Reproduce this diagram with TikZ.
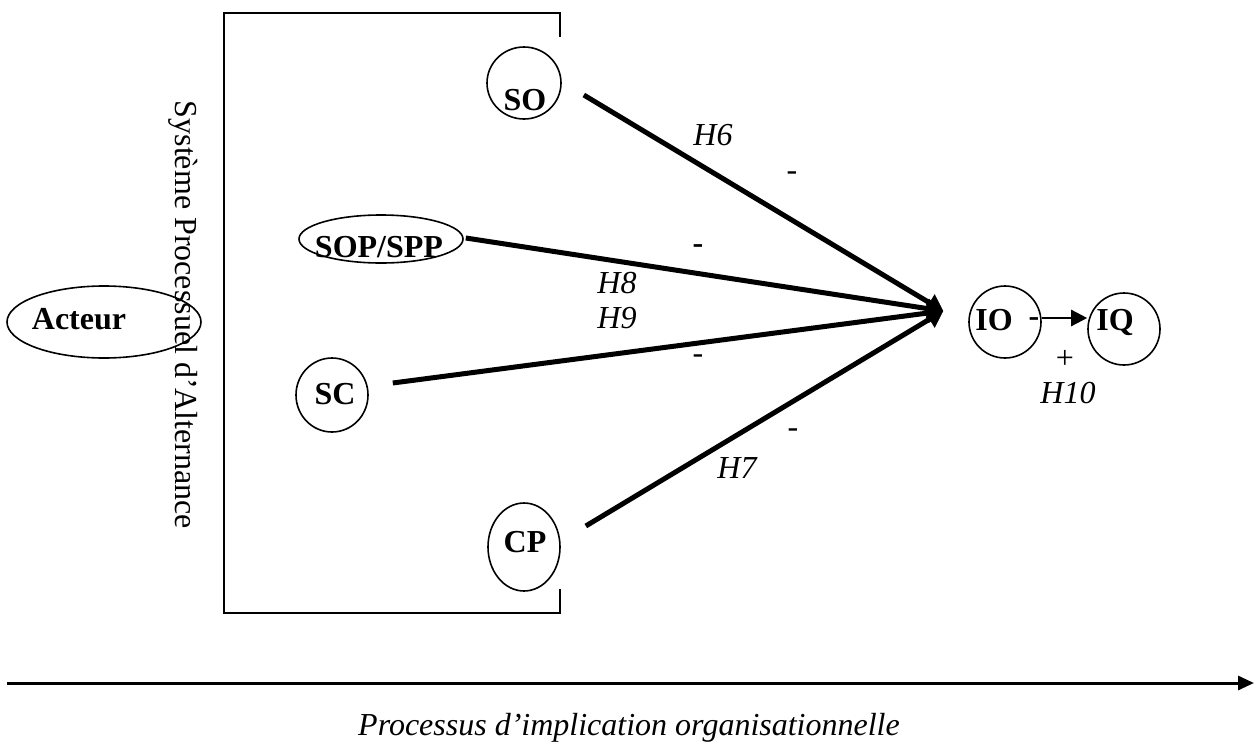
\documentclass[tikz,border=0pt]{standalone}
\usepackage{fontspec}
\setmainfont{Liberation Serif}
\usetikzlibrary{shapes.geometric,arrows.meta,calc}
\begin{document}
\begin{tikzpicture}[x=1pt,y=-1pt,
  oval/.style={draw,ellipse,line width=1.6pt,inner sep=0pt},
  lab/.style={font=\fontsize{32}{38}\selectfont\bfseries,anchor=base,inner sep=0pt},
  hyp/.style={font=\fontsize{32}{38}\selectfont\itshape,anchor=base,inner sep=0pt},
  sgn/.style={font=\fontsize{32}{38}\selectfont,inner sep=0pt},
  bigarr/.style={line width=5pt,-{Triangle[length=16pt,width=20pt,line width=0.5pt]}},
]
\useasboundingbox (0,0) rectangle (1256,742);

% bracket of the system
\draw[line width=2pt] (560,37) -- (560,13) -- (224,13) -- (224,613) -- (560,613) -- (560,589);

% vertical title
\node[font=\fontsize{32}{38}\selectfont,rotate=-90,anchor=base,inner sep=0pt] (sys) at (175,315) {Système Processuel d’Alternance};

% ellipses
\node[oval,minimum width=194pt,minimum height=72pt] (Acteur) at (104,322) {};
\node[oval,minimum width=74pt,minimum height=72pt] (SO) at (524,83) {};
\node[oval,minimum width=164pt,minimum height=48pt] (SOP) at (381,239) {};
\node[oval,minimum width=72pt,minimum height=74pt] (SC) at (332,395) {};
\node[oval,minimum width=72pt,minimum height=88pt] (CP) at (524,547) {};
\node[oval,minimum width=72pt,minimum height=72pt] (IO) at (1005,322) {};
\node[oval,minimum width=72pt,minimum height=72pt] (IQ) at (1124,329) {};

% texts of the ellipses
\node[lab] (tActeur) at (79,329) {Acteur};
\node[lab] (tSO) at (525,110) {SO};
\node[lab] (tSOP) at (379,257) {SOP/SPP};
\node[lab] (tSC) at (335,404) {SC};
\node[lab] (tCP) at (525,552) {CP};
\node[lab] (tIO) at (994,330) {IO};
\node[lab] (tIQ) at (1115,330) {IQ};

% start and end points of the thick connectors
\coordinate (conv) at ($(IO.west)+(-25,-11)$);
\coordinate (SOout) at ($(SO.east)+(22,12)$);
\coordinate (SOPout) at ($(SOP.east)+(2,-1)$);
\coordinate (SCout) at ($(SC.east)+(24,-12)$);
\coordinate (CPout) at ($(CP.east)+(25,-21)$);

\draw[bigarr] (SOout) -- (conv);
\draw[bigarr] (SOPout) -- (conv);
\draw[bigarr] (SCout) -- (conv);
\draw[bigarr] (CPout) -- (conv);

% IO -> IQ
\draw[line width=2.5pt,-{Triangle[length=16pt,width=16pt]}] ([yshift=4pt]IO.east) -- ([yshift=4pt]IO.east -| IQ.west);

% hypothesis labels
\node[hyp] (H6) at (713,145) {H6};
\node[hyp] (H8) at (617,293) {H8};
\node[hyp] (H9) at (617,328) {H9};
\node[hyp] (H7) at (737,478) {H7};
\node[hyp] (H10) at (1068,403) {H10};

% signs
\node[sgn] (m1) at (792,176) {-};
\node[sgn,font=\fontsize{32}{38}\selectfont\bfseries] (m2) at (698,249) {-};
\node[sgn] (m3) at (698,359) {-};
\node[sgn] (m4) at (793,433) {-};
\node[sgn,font=\fontsize{32}{38}\selectfont\bfseries] (m5) at (1034,322) {-};
\node[sgn] (plus) at (1065,359) {+};

% process axis
\coordinate (axL) at (7,683);
\coordinate (axR) at (1254,683);
\draw[line width=3pt,-{Triangle[length=16pt,width=14pt]}] (axL) -- (axR);
\node[hyp] (cap) at (629,735) {Processus d’implication organisationnelle};
\end{tikzpicture}
\end{document}
